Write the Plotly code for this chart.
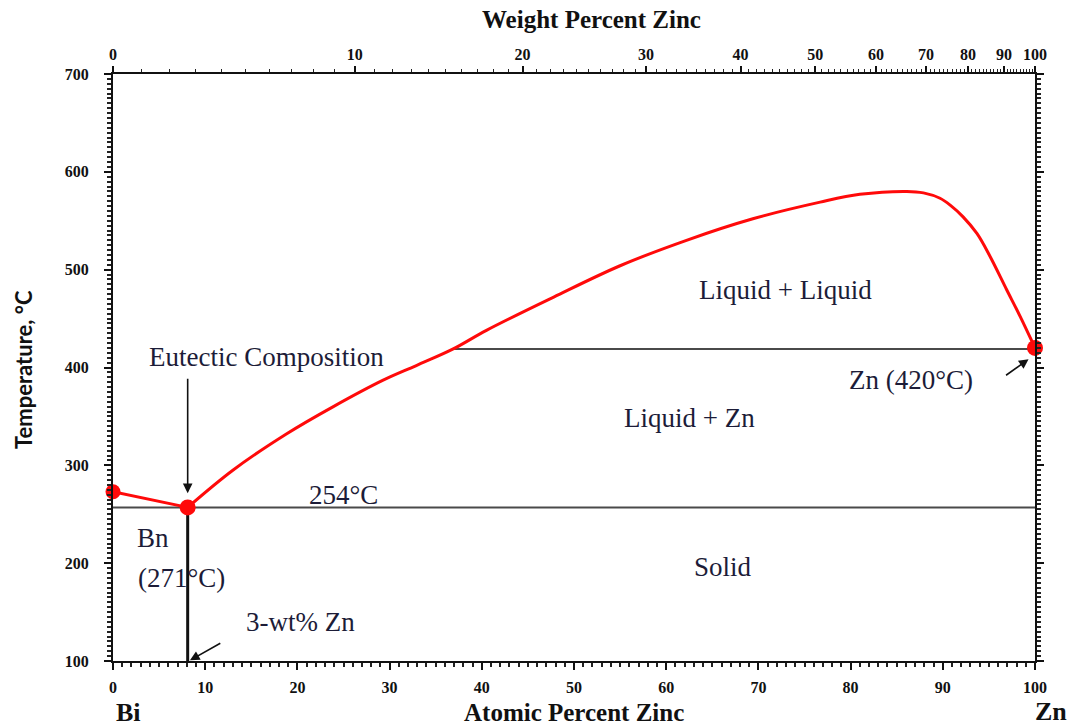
import plotly.graph_objects as go

# ---------------- data ----------------
# Liquidus / miscibility-gap curve (atomic % Zn, temperature °C)
liq_at = [8.1, 13.0, 18.8, 23.9, 29.3, 32.9, 36.9, 40.5, 47.8, 55.0, 62.2,
          69.4, 76.7, 81.0, 86.1, 87.9, 89.7, 90.8, 92.2, 93.7, 95.1, 96.9,
          98.4, 100.0]
liq_t = [257, 295, 332, 360, 387, 402, 419, 438, 472, 504, 530,
         552, 569, 577, 580, 578.5, 573, 566, 554, 537, 514, 480,
         452, 420]

# Bi side: pure Bi melting point to eutectic
bi_at = [0.0, 8.1]
bi_t = [273, 257]

# Marked points: Bi, eutectic, Zn
pt_at = [0.0, 8.1, 100.0]
pt_t = [273, 257, 420]

# Isotherms
eut_t = 257          # eutectic line (labelled 254°C)
eut_x = [0.0, 100.0]
mono_t = 419         # monotectic line
mono_x = [36.9, 100.0]
comp_x = [8.1, 8.1]  # eutectic composition vertical
comp_t = [257, 100]

# Axis tick labels
at_ticks = [0, 10, 20, 30, 40, 50, 60, 70, 80, 90, 100]
wt_ticks = [0, 10, 20, 30, 40, 50, 60, 70, 80, 90, 100]
t_ticks = [100, 200, 300, 400, 500, 600, 700]

# Region / point labels (text, atomic %, temperature)
labels = [
    ("Eutectic Composition", 16.6, 410.6),
    ("254°C", 25.0, 269.5),
    ("Liquid + Liquid", 72.9, 479),
    ("Liquid + Zn", 62.5, 348),
    ("Solid", 66.2, 196.5),
    ("Bn", 4.3, 225.5),
    ("(271°C)", 7.4, 184.6),
    ("3-wt% Zn", 20.3, 139.6),
    ("Zn (420°C)", 86.6, 387),
]

# Arrows: (tip at%, tip T, tail at%, tail T)
arrows = [
    (8.1, 271.5, 8.1, 390),
    (8.35, 100.7, 11.8, 119),
    (99.3, 408.5, 96.7, 391),
]

M_ZN = 65.38
M_BI = 208.98


def wt_to_at(w):
    if w <= 0:
        return 0.0
    if w >= 100:
        return 100.0
    nz = w / M_ZN
    nb = (100 - w) / M_BI
    return 100 * nz / (nz + nb)


wt_pos = [wt_to_at(w) for w in wt_ticks]
wt_minor = [wt_to_at(w) for w in range(1, 100) if w % 10 != 0]

SERIF = "Liberation Serif, Times New Roman, serif"
TXT = "#1c1c38"
RED = "#ff0a0a"

fig = go.Figure()

# isotherms and vertical
fig.add_trace(go.Scatter(x=eut_x, y=[eut_t, eut_t], mode="lines",
                         line=dict(color="#4a4a4a", width=2), hoverinfo="skip",
                         showlegend=False))
fig.add_trace(go.Scatter(x=mono_x, y=[mono_t, mono_t], mode="lines",
                         line=dict(color="#4a4a4a", width=2), hoverinfo="skip",
                         showlegend=False))
fig.add_trace(go.Scatter(x=comp_x, y=comp_t, mode="lines",
                         line=dict(color="#111111", width=3), hoverinfo="skip",
                         showlegend=False))

# red curves
fig.add_trace(go.Scatter(x=bi_at, y=bi_t, mode="lines",
                         line=dict(color=RED, width=3), showlegend=False))
fig.add_trace(go.Scatter(x=liq_at, y=liq_t, mode="lines",
                         line=dict(color=RED, width=3, shape="spline", smoothing=1.0),
                         showlegend=False))
fig.add_trace(go.Scatter(x=pt_at, y=pt_t, mode="markers",
                         marker=dict(color=RED, size=[15, 16, 16], opacity=1,
                                     line=dict(width=0)),
                         cliponaxis=False, showlegend=False))

# invisible trace for the top (weight percent) axis
fig.add_trace(go.Scatter(x=[0, 100], y=[700, 700], xaxis="x2", mode="lines",
                         line=dict(width=0), opacity=0, hoverinfo="skip",
                         showlegend=False))

tickfont = dict(family=SERIF, size=16, color="#111111", weight="bold")

fig.update_layout(
    width=1071, height=728,
    margin=dict(l=113, r=36, t=74, b=67),
    paper_bgcolor="white", plot_bgcolor="white",
    showlegend=False,
    xaxis=dict(range=[0, 100], tickmode="array", tickvals=at_ticks,
               ticktext=[str(v) for v in at_ticks],
               showline=True, linecolor="#111111", linewidth=2,
               ticks="outside", ticklen=7, tickwidth=2, tickcolor="#111111",
               ticklabelstandoff=4,
               minor=dict(dtick=1, ticks="outside", ticklen=4, tickwidth=1.5,
                          tickcolor="#222222"),
               showgrid=False, zeroline=False, tickfont=tickfont),
    xaxis2=dict(range=[0, 100], overlaying="x", side="top", tickmode="array",
                tickvals=wt_pos, ticktext=[str(v) for v in wt_ticks],
                showline=True, linecolor="#111111", linewidth=2,
                ticks="outside", ticklen=6, tickwidth=2, tickcolor="#111111",
                minor=dict(tickmode="array", tickvals=wt_minor, ticks="outside",
                           ticklen=3, tickwidth=1.2, tickcolor="#222222"),
                showgrid=False, zeroline=False, tickfont=tickfont),
    yaxis=dict(range=[100, 700], tickmode="array", tickvals=t_ticks,
               ticktext=[str(v) for v in t_ticks],
               showline=True, linecolor="#111111", linewidth=2, mirror="ticks",
               ticks="outside", ticklen=7, tickwidth=2, tickcolor="#111111",
               ticklabelstandoff=12,
               minor=dict(dtick=5, ticks="outside", ticklen=4, tickwidth=1.5,
                          tickcolor="#222222"),
               showgrid=False, zeroline=False, tickfont=tickfont),
)

ann_font = dict(family=SERIF, size=27, color=TXT)
for txt, xv, yv in labels:
    fig.add_annotation(x=xv, y=yv, xref="x", yref="y", text=txt,
                       showarrow=False, font=ann_font,
                       xanchor="center", yanchor="middle")

# pixel placement of the outer texts via paper coords
PW = 1071 - 113 - 36
PH = 728 - 74 - 67

title_font = dict(family=SERIF, size=25, color="#111111")
fig.add_annotation(text="<b>Weight Percent Zinc</b>", x=(591 - 113) / PW,
                   y=1 + (74 - 19) / PH, xref="paper", yref="paper",
                   showarrow=False, font=title_font,
                   xanchor="center", yanchor="middle")
fig.add_annotation(text="<b>Atomic Percent Zinc</b>", x=(574 - 113) / PW,
                   y=-(712 - 661) / PH, xref="paper", yref="paper",
                   showarrow=False, font=title_font,
                   xanchor="center", yanchor="middle")
fig.add_annotation(text="<b>Temperature, °C</b>", x=-(113 - 24) / PW,
                   y=(661 - 370) / PH, xref="paper", yref="paper",
                   showarrow=False, textangle=-90,
                   font=dict(family="Lato, Liberation Sans, sans-serif", size=22,
                             color="#111111"),
                   xanchor="center", yanchor="middle")
fig.add_annotation(text="<b>Bi</b>", x=(128 - 113) / PW, y=-(712 - 661) / PH,
                   xref="paper", yref="paper", showarrow=False,
                   font=dict(family=SERIF, size=26, color="#111111"),
                   xanchor="center", yanchor="middle")
fig.add_annotation(text="<b>Zn</b>", x=(1051 - 113) / PW, y=-(711 - 661) / PH,
                   xref="paper", yref="paper", showarrow=False,
                   font=dict(family=SERIF, size=26, color="#111111"),
                   xanchor="center", yanchor="middle")

for tx, ty, sx, sy in arrows:
    fig.add_annotation(x=tx, y=ty, ax=sx, ay=sy, xref="x", yref="y",
                       axref="x", ayref="y", text="", showarrow=True,
                       arrowhead=2, arrowsize=1.2, arrowwidth=1.6,
                       arrowcolor="#111111")

fig.write_html("out.html", config={"displayModeBar": False},
               post_script="document.body.style.margin='0';")
